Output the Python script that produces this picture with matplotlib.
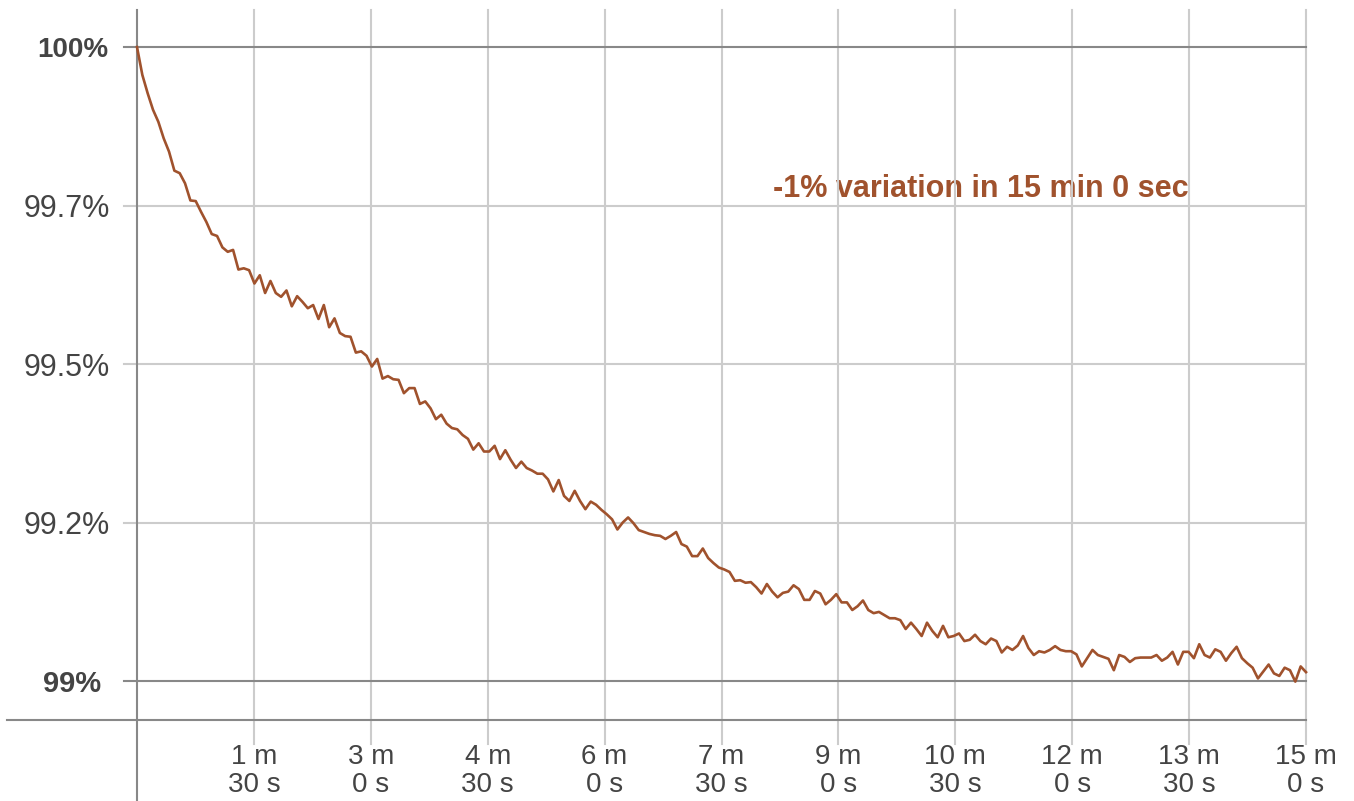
import matplotlib
matplotlib.use("Agg")
import matplotlib.pyplot as plt
import numpy as np

# sampled battery level (%) over 15 minutes, evenly spaced samples
level = [
    100.000, 99.956, 99.927, 99.901, 99.882, 99.856, 99.835, 99.805, 99.801, 99.785,
    99.758, 99.757, 99.740, 99.724, 99.705, 99.702, 99.684, 99.677, 99.680, 99.649,
    99.651, 99.648, 99.627, 99.640, 99.612, 99.631, 99.612, 99.606, 99.616, 99.591,
    99.607, 99.598, 99.588, 99.593, 99.571, 99.593, 99.558, 99.572, 99.549, 99.544,
    99.543, 99.518, 99.520, 99.513, 99.496, 99.508, 99.477, 99.481, 99.476, 99.475,
    99.454, 99.462, 99.462, 99.437, 99.441, 99.430, 99.413, 99.420, 99.406, 99.399,
    99.397, 99.388, 99.382, 99.365, 99.375, 99.362, 99.362, 99.371, 99.350, 99.364,
    99.349, 99.336, 99.346, 99.336, 99.332, 99.327, 99.327, 99.318, 99.299, 99.317,
    99.292, 99.284, 99.300, 99.284, 99.271, 99.283, 99.278, 99.270, 99.263, 99.255,
    99.239, 99.250, 99.258, 99.249, 99.238, 99.235, 99.232, 99.230, 99.229, 99.224,
    99.229, 99.235, 99.216, 99.212, 99.197, 99.197, 99.209, 99.194, 99.186, 99.179,
    99.176, 99.172, 99.158, 99.159, 99.155, 99.156, 99.148, 99.138, 99.153, 99.141,
    99.132, 99.139, 99.141, 99.151, 99.145, 99.128, 99.128, 99.142, 99.138, 99.121,
    99.128, 99.137, 99.124, 99.124, 99.112, 99.118, 99.127, 99.112, 99.107, 99.109,
    99.104, 99.099, 99.099, 99.096, 99.082, 99.092, 99.082, 99.071, 99.092, 99.079,
    99.069, 99.087, 99.069, 99.071, 99.075, 99.063, 99.065, 99.073, 99.063, 99.058,
    99.067, 99.063, 99.045, 99.054, 99.049, 99.056, 99.071, 99.052, 99.041, 99.047,
    99.045, 99.049, 99.055, 99.049, 99.047, 99.047, 99.042, 99.023, 99.036, 99.049,
    99.041, 99.038, 99.035, 99.017, 99.041, 99.038, 99.030, 99.036, 99.037, 99.037,
    99.037, 99.041, 99.032, 99.037, 99.046, 99.026, 99.046, 99.046, 99.036, 99.058,
    99.041, 99.037, 99.050, 99.046, 99.032, 99.044, 99.054, 99.036, 99.028, 99.021,
    99.004, 99.015, 99.026, 99.012, 99.008, 99.021, 99.017, 98.999, 99.023, 99.014,
]
duration = 900  # seconds
secs = np.linspace(0, duration, len(level))

x_ticks = [90, 180, 270, 360, 450, 540, 630, 720, 810, 900]
x_labels = ["1 m\n30 s", "3 m\n0 s", "4 m\n30 s", "6 m\n0 s", "7 m\n30 s",
            "9 m\n0 s", "10 m\n30 s", "12 m\n0 s", "13 m\n30 s", "15 m\n0 s"]
y_ticks = [99.0, 99.25, 99.5, 99.75, 100.0]
y_labels = ["99%", "99.2%", "99.5%", "99.7%", "100%"]
note = "-1% variation in 15 min 0 sec"

line_color = "#a0522d"
light = "#cccccc"
dark = "#888888"
text_color = "#444444"

plt.rcParams["font.family"] = ["Liberation Sans", "DejaVu Sans"]

fig = plt.figure(figsize=(13.54, 8.01), dpi=100)
ax = fig.add_axes([137 / 1354, 81 / 801, 1169 / 1354, 710 / 801])
ax.set_xlim(0, duration)
ax.set_ylim(98.9385, 100.0584)
for s in ax.spines.values():
    s.set_visible(False)

W, H = 1169.0, 710.0
xt = ax.get_xaxis_transform()
yt = ax.get_yaxis_transform()

# vertical grid lines, extending below the axis
for t in x_ticks:
    ax.plot([t, t], [-24 / H, 1], transform=xt, color=light, lw=1.5,
            clip_on=False, zorder=1)
# left axis line
ax.plot([0, 0], [-80 / H, 1], transform=xt, color=dark, lw=1.5,
        clip_on=False, zorder=1.5)
# horizontal grid lines
for v in y_ticks:
    c = dark if v in (99.0, 100.0) else light
    ax.plot([-13 / W, 1], [v, v], transform=yt, color=c, lw=1.5,
            clip_on=False, zorder=1.2)
# bottom axis line
ax.plot([-130 / W, 1], [0, 0], transform=ax.transAxes, color=dark, lw=1.5,
        clip_on=False, zorder=1.5)

ax.plot(secs, level, color=line_color, lw=1.9, zorder=3, clip_on=False)

ax.text(490, 99.764, note, color=line_color, fontsize=22, fontweight="bold",
        ha="left", va="baseline", zorder=0.5)

ax.set_xticks(x_ticks)
ax.set_xticklabels(x_labels, fontsize=20, color=text_color, linespacing=1.12)
ax.tick_params(axis="both", length=0)
ax.tick_params(axis="x", pad=17)

# y labels drawn as text so each can sit where it does in the original
ax.set_yticks([])
for v, lab in zip(y_ticks, y_labels):
    if v == 100.0:
        right, size, weight = 108, 20, "bold"
    elif v == 99.0:
        right, size, weight = 101, 21, "bold"
    else:
        right, size, weight = 110, 22, "normal"
    ax.text((right - 137) / W, v, lab, transform=yt, ha="right",
            va="center_baseline", fontsize=size, fontweight=weight,
            color=text_color)

fig.savefig("out.png", dpi=100)
